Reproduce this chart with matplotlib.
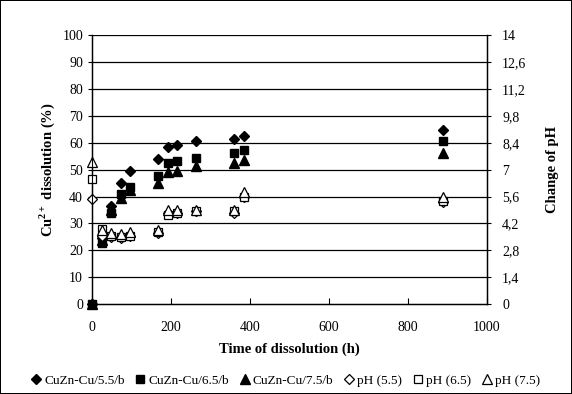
import matplotlib.pyplot as plt
from matplotlib.ticker import FixedLocator

plt.rcParams["font.family"] = ["Liberation Serif", "DejaVu Serif"]
plt.rcParams["mathtext.fontset"] = "custom"
plt.rcParams["mathtext.bf"] = "Liberation Serif:bold"
plt.rcParams["mathtext.rm"] = "Liberation Serif"

# time of dissolution (h)
time_h = [0, 24, 48, 72, 96, 168, 192, 216, 264, 360, 384, 888]

# Cu2+ dissolution (%)
cu_55 = [0, 24.5, 36.5, 44.9, 49.4, 53.9, 58.4, 59.0, 60.7, 61.3, 62.5, 64.7]
cu_65 = [0, 22.8, 33.8, 40.9, 43.6, 47.6, 52.5, 53.2, 54.5, 56.3, 57.2, 60.7]
cu_75 = [0, 24.0, 35.0, 39.4, 42.4, 44.9, 49.2, 49.6, 51.4, 52.3, 53.5, 56.3]

# pH
ph_55 = [5.49, 3.57, 3.50, 3.43, 3.57, 3.71, 4.76, 4.76, 4.83, 4.76, 5.60, 5.32]
ph_65 = [6.51, 3.92, 3.57, 3.50, 3.57, 3.78, 4.62, 4.76, 4.83, 4.83, 5.60, 5.39]
ph_75 = [7.42, 3.85, 3.71, 3.64, 3.78, 3.85, 4.90, 4.90, 4.90, 4.90, 5.81, 5.60]

ph_ticks = [0, 1.4, 2.8, 4.2, 5.6, 7, 8.4, 9.8, 11.2, 12.6, 14]

fig = plt.figure(figsize=(5.72, 3.94), dpi=100)
fig.patch.set_edgecolor("black")
fig.patch.set_linewidth(1.2)
ax = fig.add_axes([0.161, 0.228, 0.690, 0.683])
ax2 = ax.twinx()

for y in range(10, 101, 10):
    ax.axhline(y, color="black", lw=0.9, zorder=0)

ax.plot(time_h, cu_55, "D", color="black", ms=5, ls="none", clip_on=False, label="CuZn-Cu/5.5/b")
ax.plot(time_h, cu_65, "s", color="black", ms=6, ls="none", clip_on=False, label="CuZn-Cu/6.5/b")
ax.plot(time_h, cu_75, "^", color="black", ms=6.5, ls="none", clip_on=False, label="CuZn-Cu/7.5/b")
ax2.plot(time_h, ph_55, "D", mfc="white", mec="black", mew=0.9, ms=5, ls="none", clip_on=False, label="pH (5.5)")
ax2.plot(time_h, ph_65, "s", mfc="white", mec="black", mew=0.9, ms=6, ls="none", clip_on=False, label="pH (6.5)")
ax2.plot(time_h, ph_75, "^", mfc="white", mec="black", mew=0.9, ms=6.5, ls="none", clip_on=False, label="pH (7.5)")

ax.set_xlim(0, 1000)
ax.set_ylim(0, 100)
ax2.set_ylim(0, 14)
ax.set_xticks(range(0, 1001, 200))
ax.set_yticks(range(0, 101, 10))
ax2.yaxis.set_major_locator(FixedLocator(ph_ticks))
ax2.set_yticklabels([("%g" % t).replace(".", ",") for t in ph_ticks])

ax.tick_params(axis="x", direction="in", length=4, labelsize=10, pad=12)
ax.tick_params(axis="y", direction="out", length=3, labelsize=10)
ax2.tick_params(axis="y", direction="out", length=3, labelsize=10, pad=8)

for a in (ax, ax2):
    a.spines["top"].set_visible(False)
ax.spines["left"].set_linewidth(1)
ax.spines["bottom"].set_linewidth(1)
ax2.spines["right"].set_linewidth(1)

ax.set_xlabel("Time of dissolution (h)", fontsize=10.5, fontweight="bold", labelpad=6)
ax.set_ylabel("Cu$^{\\mathbf{2+}}$ dissolution (%)", fontsize=10.5, fontweight="bold")
ax2.set_ylabel("Change of pH", fontsize=10.5, fontweight="bold", labelpad=14)

h1, l1 = ax.get_legend_handles_labels()
h2, l2 = ax2.get_legend_handles_labels()
fig.legend(h1 + h2, l1 + l2, loc="center", bbox_to_anchor=(0.5, 0.033), ncol=6,
           frameon=False, fontsize=9.5, handlelength=0.6, handletextpad=0.3,
           columnspacing=0.9, markerscale=1.0)

fig.savefig("out.png", dpi=100)
